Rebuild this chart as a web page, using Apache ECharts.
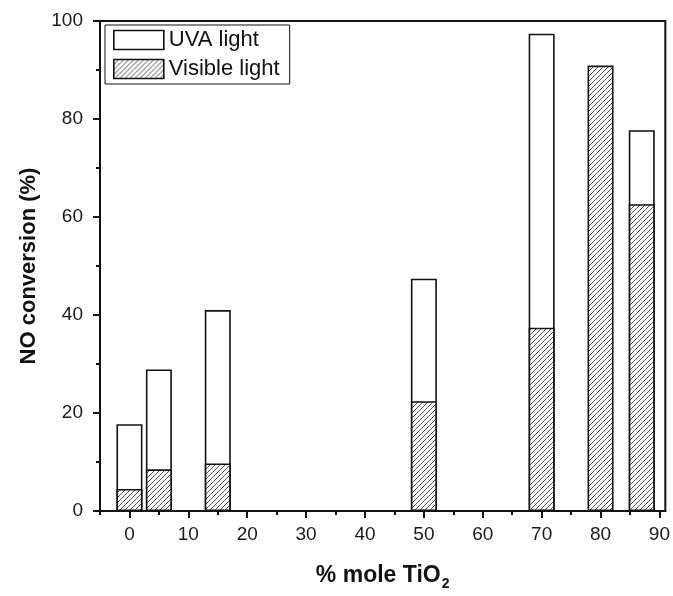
<!DOCTYPE html>
<html>
<head>
<meta charset="utf-8">
<script src="https://cdn.jsdelivr.net/npm/echarts@6/dist/echarts.min.js"></script>
<style>
  html, body { margin: 0; padding: 0; background: #fff; }
  #main-chart { width: 673px; height: 596px; }
</style>
</head>
<body>
<div id="main-chart"></div>
<script>
// % mole TiO2 of each sample
const molePercent = [0, 5, 15, 50, 70, 80, 87]
// NO conversion (%) under UVA light (none measured at 80)
const uvaLight = [17.7, 28.9, 41.0, 47.4, 97.4, null, 77.7]
// NO conversion (%) under visible light
const visibleLight = [4.5, 8.5, 9.7, 22.4, 37.4, 90.9, 62.6]

const xMajorTicks = [0, 10, 20, 30, 40, 50, 60, 70, 80, 90]
const xMinorTicks = [-5, 5, 15, 25, 35, 45, 55, 65, 75, 85]

const FONT = '"Liberation Sans", Arial, sans-serif'
const INK = '#111'

function makeHatch() {
  const size = 5
  const canvas = document.createElement('canvas')
  canvas.width = size
  canvas.height = size
  const ctx = canvas.getContext('2d')
  ctx.fillStyle = '#fff'
  ctx.fillRect(0, 0, size, size)
  ctx.strokeStyle = '#444'
  ctx.lineWidth = 0.9
  ctx.beginPath()
  ctx.moveTo(-1, 1); ctx.lineTo(1, -1)
  ctx.moveTo(0, size); ctx.lineTo(size, 0)
  ctx.moveTo(size - 1, size + 1); ctx.lineTo(size + 1, size - 1)
  ctx.stroke()
  return canvas
}

const chart = echarts.init(document.getElementById('main-chart'))

const pairs = ys => molePercent.map((x, i) => [x, ys[i]])

const barStyle = {
  borderColor: INK,
  borderWidth: 1.6,
}

chart.setOption({
  animation: false,
  grid: {
    left: 100, right: 4, top: 21, bottom: 78,
    show: true, borderColor: INK, borderWidth: 2,
  },
  legend: {
    orient: 'vertical',
    left: 105, top: 25,
    padding: [4, 10, 4, 8],
    borderColor: INK, borderWidth: 1,
    icon: 'rect',
    itemWidth: 50, itemHeight: 19, itemGap: 7,
    itemStyle: { borderWidth: 1.6, borderColor: INK },
    textStyle: { fontFamily: FONT, fontSize: 22, color: INK },
    data: ['UVA light', 'Visible light'],
  },
  xAxis: [{
    type: 'value', min: -5, max: 91,
    name: '% mole TiO{sub|2}',
    nameLocation: 'middle', nameGap: 50,
    nameTextStyle: {
      fontFamily: FONT, fontSize: 23, fontWeight: 'bold', color: INK,
      rich: { sub: { fontFamily: FONT, fontSize: 14, fontWeight: 'bold', color: INK, padding: [16, 0, 0, 1] } },
    },
    axisLine: { onZero: false, lineStyle: { color: INK, width: 2 } },
    axisTick: { customValues: xMajorTicks, length: 7, lineStyle: { color: INK, width: 2 } },
    axisLabel: { customValues: xMajorTicks, margin: 14, fontFamily: FONT, fontSize: 19, color: '#1a1a1a' },
    splitLine: { show: false },
  }, {
    type: 'value', min: -5, max: 91, position: 'bottom',
    axisLine: { onZero: false, lineStyle: { color: INK, width: 2 } },
    axisTick: { customValues: xMinorTicks, length: 4, lineStyle: { color: INK, width: 2 } },
    axisLabel: { show: false },
    splitLine: { show: false },
  }],
  yAxis: {
    type: 'value', min: 0, max: 100, interval: 20,
    name: 'NO conversion (%)',
    nameLocation: 'middle', nameGap: 58, nameRotate: 90,
    nameTextStyle: { fontFamily: FONT, fontSize: 22, fontWeight: 'bold', color: INK },
    axisLine: { show: true, onZero: false, lineStyle: { color: INK, width: 2 } },
    axisTick: { show: true, length: 7, lineStyle: { color: INK, width: 2 } },
    minorTick: { show: true, splitNumber: 2, length: 4, lineStyle: { color: INK, width: 2 } },
    axisLabel: { margin: 17, fontFamily: FONT, fontSize: 19, color: '#1a1a1a' },
    splitLine: { show: false },
  },
  series: [{
    name: 'UVA light',
    type: 'bar',
    barWidth: 26,
    barGap: '-100%',
    itemStyle: { ...barStyle, color: '#fff' },
    data: pairs(uvaLight),
  }, {
    name: 'Visible light',
    type: 'bar',
    barWidth: 26,
    barGap: '-100%',
    itemStyle: { ...barStyle, color: { image: makeHatch(), repeat: 'repeat' } },
    data: pairs(visibleLight),
  }],
})
</script>
</body>
</html>
